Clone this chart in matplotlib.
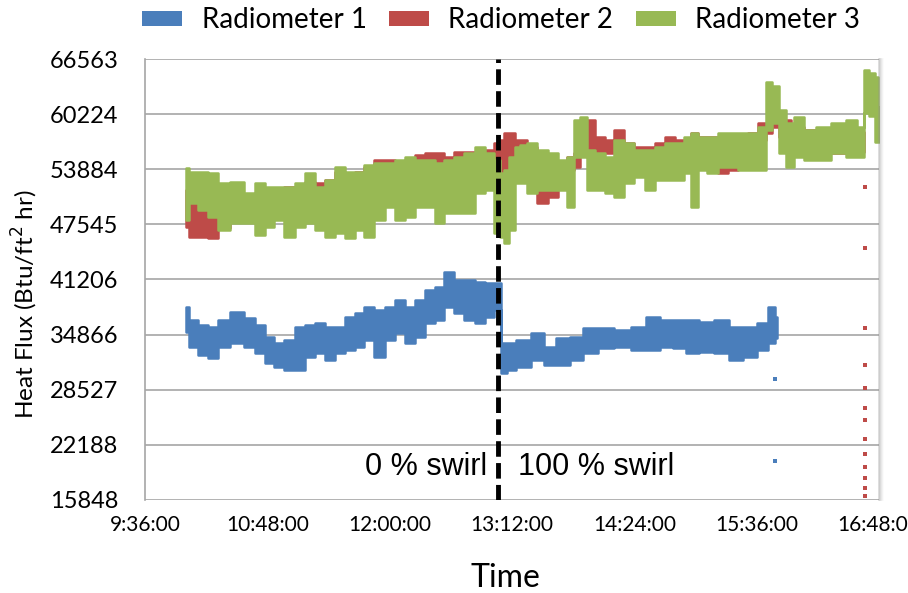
import numpy as np
import pandas as pd
import matplotlib
matplotlib.use('Agg')
import matplotlib.pyplot as plt
import matplotlib.dates as mdates
from matplotlib.patches import Patch
from matplotlib.ticker import FuncFormatter

plt.rcParams['font.family'] = ['Lato', 'DejaVu Sans']

DAY = '2014-05-20 '

# Radiometer 1 (low / high envelope of the readings, Btu/ft2 hr)
r1_time = ['10:00', '10:04', '10:10', '10:16', '10:22', '10:30', '10:38', '10:44', '10:49',
           '10:55', '11:01', '11:07', '11:13', '11:19', '11:25', '11:31', '11:37', '11:42',
           '11:48', '11:54', '12:00', '12:06', '12:12', '12:18', '12:24', '12:29', '12:35',
           '12:41', '12:47', '12:53', '12:59', '13:04',
           '13:07', '13:11', '13:18', '13:28', '13:34', '13:42', '13:50', '13:58', '14:07',
           '14:17', '14:27', '14:35', '14:43', '14:51', '14:58', '15:06', '15:16', '15:24',
           '15:32', '15:40', '15:45', '15:48']
r1_high = [38083, 36550, 35975, 35783, 36550, 37508, 36742, 35975, 34633,
           33867, 34250, 35783, 35975, 36167, 35783, 35783, 36933, 37316,
           38083, 37700, 38083, 38850, 38083, 38850, 40000, 40383, 42108,
           41149, 41149, 40958, 40766, 40766,
           33867, 33867, 34250, 35017, 33484, 34442, 34634, 35592, 35592,
           35400, 35784, 36934, 36551, 36551, 36551, 36359, 36551, 35784,
           35784, 36167, 38083, 36934]
r1_low = [35208, 33483, 32525, 32142, 33483, 33867, 33483, 32717, 31567,
          31183, 30800, 30800, 32333, 32717, 31950, 32717, 33100, 33483,
          34250, 32333, 34250, 35017, 33867, 34633, 36167, 36550, 38083,
          37316, 36550, 36167, 36933, 37700,
          30418, 30801, 31184, 31951, 31376, 31376, 31951, 32717, 33293,
          33484, 33101, 33101, 33484, 33293, 32717, 32909, 32717, 31951,
          32334, 33101, 33867, 34442]
r1_stray_time = ['15:47', '15:47']
r1_stray = [29800, 20370]

# Radiometer 2
r2_time = ['10:00', '10:04', '10:10', '10:16', '10:22', '10:30', '10:38', '10:44', '10:49',
           '10:55', '11:01', '11:07', '11:13', '11:19', '11:25', '11:31', '11:37', '11:42',
           '11:48', '11:54', '12:00', '12:06', '12:12', '12:18', '12:24', '12:29', '12:35',
           '12:41', '12:47', '12:53', '12:59', '13:04',
           '13:06', '13:09', '13:12', '13:15', '13:18', '13:24', '13:30', '13:36', '13:42',
           '13:47', '13:50', '13:54', '13:58', '14:04', '14:09', '14:15', '14:21', '14:27',
           '14:33', '14:39', '14:45', '14:51', '14:56', '14:59', '15:04', '15:10', '15:16',
           '15:22', '15:28', '15:34', '15:40', '15:43', '15:47', '15:51', '16:01', '16:07',
           '16:15', '16:25', '16:32', '16:38', '16:39']
r2_high = [51498, 49965, 49582, 49582, 50349, 50732, 50732, 51115, 51115,
           51498, 51882, 51882, 52457, 52265, 52648, 53607, 53415, 53607,
           54182, 54948, 54948, 54182, 54948, 55523, 55715, 55715, 55332,
           55906, 55906, 55715, 56098, 56865,
           57248, 58015, 58015, 57248, 57248, 56482, 52649, 53416, 54565,
           55332, 55715, 59548, 59548, 57632, 57248, 58398, 56865, 56482,
           56482, 56865, 57632, 57248, 57248, 58015, 57632, 57632, 54949,
           55332, 57632, 58015, 59165, 59165, 59932, 59548, 58782, 58398,
           58015, 57632, 57248, 58398, 58200]
r2_low = [47282, 46132, 46132, 45941, 47090, 48049, 47857, 47665, 48049,
          48432, 48815, 49199, 49582, 49582, 50349, 50732, 50732, 51115,
          51498, 51498, 51882, 51882, 51882, 53032, 53032, 53032, 53415,
          53415, 53798, 53415, 54182, 54182,
          52266, 53799, 54182, 54182, 54182, 53416, 49966, 50733, 51882,
          53799, 54182, 55715, 55332, 55715, 55715, 56482, 55332, 55332,
          55715, 55715, 55715, 56099, 56482, 56482, 56099, 55332, 53416,
          53799, 55332, 56099, 57248, 58015, 58782, 57632, 57632, 57632,
          56482, 55715, 55715, 55715, 55900]
r2_stray_time = ['16:40'] * 13
r2_stray = [51840, 44830, 35660, 31410, 28760, 26430, 25050, 22900,
            21140, 19640, 18420, 17270, 16270]

# Radiometer 3
r3_time = ['10:00', '10:04', '10:10', '10:16', '10:22', '10:30', '10:38', '10:44', '10:49',
           '10:55', '11:01', '11:07', '11:13', '11:19', '11:25', '11:31', '11:37', '11:42',
           '11:48', '11:54', '12:00', '12:06', '12:12', '12:18', '12:24', '12:29', '12:35',
           '12:41', '12:47', '12:53', '12:59', '13:04',
           '13:06', '13:09', '13:12', '13:15', '13:18', '13:24', '13:30', '13:36', '13:42',
           '13:47', '13:50', '13:54', '13:58', '14:04', '14:09', '14:15', '14:21', '14:27',
           '14:33', '14:39', '14:45', '14:51', '14:56', '14:59', '15:04', '15:10', '15:16',
           '15:22', '15:28', '15:34', '15:40', '15:43', '15:47', '15:51', '15:55', '16:01',
           '16:07', '16:15', '16:25', '16:32', '16:38', '16:40', '16:44', '16:47', '16:48']
r3_high = [53990, 53607, 53607, 53415, 52265, 52457, 51115, 52265, 51882,
           51882, 51882, 52265, 53415, 51882, 52648, 54182, 53607, 53607,
           54373, 54565, 54565, 54948, 55332, 54948, 54948, 54565, 54948,
           55332, 55715, 56481, 55715, 54948,
           53416, 53799, 55332, 56482, 56674, 56865, 56099, 55715, 54949,
           55332, 59548, 59932, 56099, 55715, 55332, 57248, 56865, 56099,
           56099, 56482, 56865, 56865, 57632, 58015, 57632, 57632, 58015,
           58015, 58015, 58015, 58782, 63900, 63500, 60698, 59165, 59932,
           58398, 58782, 59165, 59548, 58782, 65300, 65000, 64500, 61000]
r3_low = [48049, 49965, 49199, 48432, 46899, 47665, 47665, 46324, 47282,
          48049, 46132, 47282, 47665, 46899, 46132, 46516, 45941, 46899,
          46132, 48049, 49582, 48049, 48432, 49582, 49582, 47665, 48815,
          48815, 48815, 51115, 51498, 46516,
          46133, 45366, 46899, 52266, 52266, 51116, 51499, 51499, 51499,
          49583, 55332, 55332, 51499, 51499, 51116, 50733, 52266, 53032,
          51499, 52649, 52649, 52649, 53416, 49583, 53799, 53416, 54182,
          54182, 53799, 53799, 53799, 58398, 59165, 55715, 54182, 55332,
          54949, 54949, 55715, 55332, 55332, 60350, 60000, 57000, 57000]

series = [('Radiometer 1', '#4A7EBB', r1_time, r1_low, r1_high),
          ('Radiometer 2', '#BE4B48', r2_time, r2_low, r2_high),
          ('Radiometer 3', '#98B954', r3_time, r3_low, r3_high)]

y_ticks = [15848, 22188, 28527, 34866, 41206, 47545, 53884, 60224, 66563]
x_ticks = ['9:36', '10:48', '12:00', '13:12', '14:24', '15:36', '16:48']
switch_time = '13:04'


def tnum(times):
    return mdates.date2num(pd.to_datetime([DAY + t for t in times]).to_pydatetime())


fig = plt.figure(figsize=(9.08, 5.93), dpi=100)
ax = fig.add_axes([145 / 908, 1 - 500 / 593, 734 / 908, 441 / 593])

for name, col, tt, lo, hi in series:
    ax.fill_between(tnum(tt), lo, hi, step='mid', color=col, lw=1.8, edgecolor=col, zorder=3)

ax.scatter(tnum(r1_stray_time), r1_stray, s=7, marker='s', color='#4A7EBB', lw=0, zorder=3)
ax.scatter(tnum(r2_stray_time), r2_stray, s=7, marker='s', color='#BE4B48', lw=0, zorder=3)

# switch from 0 % to 100 % swirl
xs = tnum([switch_time])[0]
ax.plot([xs, xs], [y_ticks[0], y_ticks[-1]], color='black', lw=3.5, dashes=(3.2, 1.3), zorder=5)
ax.annotate('0 % swirl', (xs, 19643), xytext=(-8, 0), textcoords='offset points',
            ha='right', va='center', fontsize=22, family=['Liberation Sans', 'DejaVu Sans'])
ax.annotate('100 % swirl', (xs, 19643), xytext=(14, 0), textcoords='offset points',
            ha='left', va='center', fontsize=22, family=['Liberation Sans', 'DejaVu Sans'])

ax.set_ylim(y_ticks[0], y_ticks[-1])
ax.set_yticks(y_ticks)
ax.set_yticklabels([str(v) for v in y_ticks])
xt = tnum(x_ticks)
ax.set_xlim(xt[0], xt[-1])
ax.set_xticks(xt)
ax.xaxis.set_major_formatter(FuncFormatter(lambda v, p: mdates.num2date(v).strftime('%H:%M:%S').lstrip('0')))

ax.grid(axis='y', color='#A6A6A6', lw=1.2, zorder=0)
ax.set_axisbelow(True)
for s in ['top', 'right', 'bottom']:
    ax.spines[s].set_visible(False)
ax.spines['left'].set_color('#A6A6A6')
ax.spines['left'].set_linewidth(1.2)
ax.tick_params(axis='y', length=0, pad=19, labelsize=17)
ax.tick_params(axis='x', length=0, pad=11, labelsize=15)

# soft shadow along the right edge of the plot area
for i, a in enumerate([0.35, 0.25, 0.16, 0.09, 0.04]):
    ax.plot([1.0 + i * 0.0014] * 2, [0, 1.0], transform=ax.transAxes, color='#909090',
            alpha=a, lw=1.2, clip_on=False, zorder=6)

fig.text(25 / 908, 1 - 304 / 593, 'Heat Flux (Btu/ft$^2$ hr)', rotation=90,
         ha='center', va='center', fontsize=17.5)
fig.text(505 / 908, 1 - 578 / 593, 'Time', ha='center', va='center', fontsize=23)

handles = [Patch(facecolor=c, edgecolor='none', label=n) for n, c, *_ in series]
fig.legend(handles=handles, loc='center', bbox_to_anchor=(501 / 908, 1 - 20 / 593), ncol=3,
           frameon=False, fontsize=20, handlelength=1.45, handleheight=0.45,
           handletextpad=0.7, columnspacing=0.8, borderpad=0)

fig.savefig('out.png', dpi=100)
